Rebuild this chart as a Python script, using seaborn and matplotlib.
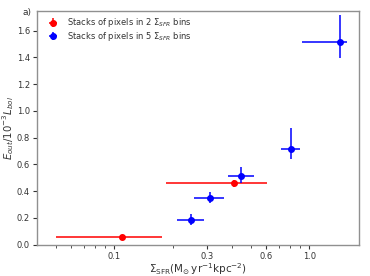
import numpy as np
import pandas as pd
import matplotlib
matplotlib.use("Agg")
import matplotlib.pyplot as plt
import seaborn as sns
from matplotlib.ticker import FixedLocator, FixedFormatter, LogLocator, NullFormatter

# Data: two-bin stacks (red)
red_x = [0.109, 0.409]
red_y = [0.058, 0.460]
red_xlo = [0.050, 0.184]
red_xhi = [0.176, 0.607]
red_ylo = [0.050, 0.434]
red_yhi = [0.066, 0.485]

# Data: five-bin stacks (blue)
blue_x = [0.247, 0.308, 0.448, 0.803, 1.436]
blue_y = [0.185, 0.350, 0.516, 0.717, 1.518]
blue_xlo = [0.210, 0.255, 0.384, 0.713, 0.917]
blue_xhi = [0.290, 0.366, 0.523, 0.902, 1.566]
blue_ylo = [0.145, 0.310, 0.464, 0.642, 1.396]
blue_yhi = [0.230, 0.397, 0.580, 0.872, 1.715]

xticks = [0.1, 0.3, 0.6, 1.0]
xticklabels = ["0.1", "0.3", "0.6", "1.0"]

sns.set_style("ticks")
plt.rcParams['font.family'] = ['DejaVu Sans']
plt.rcParams['mathtext.fontset'] = 'dejavusans'

fig = plt.figure(figsize=(3.70, 2.76), dpi=100)
ax = fig.add_axes([0.100, 0.1134, 0.870, 0.848])

def draw(x, y, xlo, xhi, ylo, yhi, color, label):
    x = np.array(x); y = np.array(y)
    xerr = [x - np.array(xlo), np.array(xhi) - x]
    yerr = [y - np.array(ylo), np.array(yhi) - y]
    ax.errorbar(x, y, xerr=xerr, yerr=yerr, fmt='o', color=color, ms=4,
                elinewidth=1.1, capsize=0, label=label, zorder=3)

draw(red_x, red_y, red_xlo, red_xhi, red_ylo, red_yhi, '#ff0000',
     r"Stacks of pixels in 2 $\Sigma_{SFR}$ bins")
draw(blue_x, blue_y, blue_xlo, blue_xhi, blue_ylo, blue_yhi, '#0000ff',
     r"Stacks of pixels in 5 $\Sigma_{SFR}$ bins")

ax.set_xscale('log')
ax.set_xlim(0.0401, 1.80)
ax.set_ylim(0.0, 1.75)
ax.xaxis.set_major_locator(FixedLocator(xticks))
ax.xaxis.set_major_formatter(FixedFormatter(xticklabels))
ax.xaxis.set_minor_locator(LogLocator(base=10, subs=np.arange(2, 10)))
ax.xaxis.set_minor_formatter(NullFormatter())
ax.set_yticks([0.0, 0.2, 0.4, 0.6, 0.8, 1.0, 1.2, 1.4, 1.6])

for s in ax.spines.values():
    s.set_color('#909090')
    s.set_linewidth(1.0)
ax.tick_params(axis='both', which='major', labelsize=6, length=3, width=0.8,
               color='#333333', labelcolor='#333333', pad=2)
ax.tick_params(axis='x', which='minor', length=1.8, width=0.6, color='#333333')

ax.set_xlabel(r"$\Sigma_{\rm SFR}(\rm M_{\odot}\,yr^{-1}kpc^{-2})$", fontsize=7.5,
              color='#333333', labelpad=0.5)
ax.set_ylabel(r"$\dot{E}_{out}/10^{-3}L_{bol}$", fontsize=7.3, color='#333333',
              labelpad=0.5)

leg = ax.legend(loc='upper left', frameon=False, fontsize=6, handletextpad=0.9,
                borderaxespad=0.3, labelspacing=0.08, handlelength=1.5,
                bbox_to_anchor=(0.012, 1.0), labelcolor='#333333')

fig.text(0.061, 0.953, "a)", fontsize=6.5, color='#333333', ha='left', va='center')

fig.savefig("out.png", dpi=100)
